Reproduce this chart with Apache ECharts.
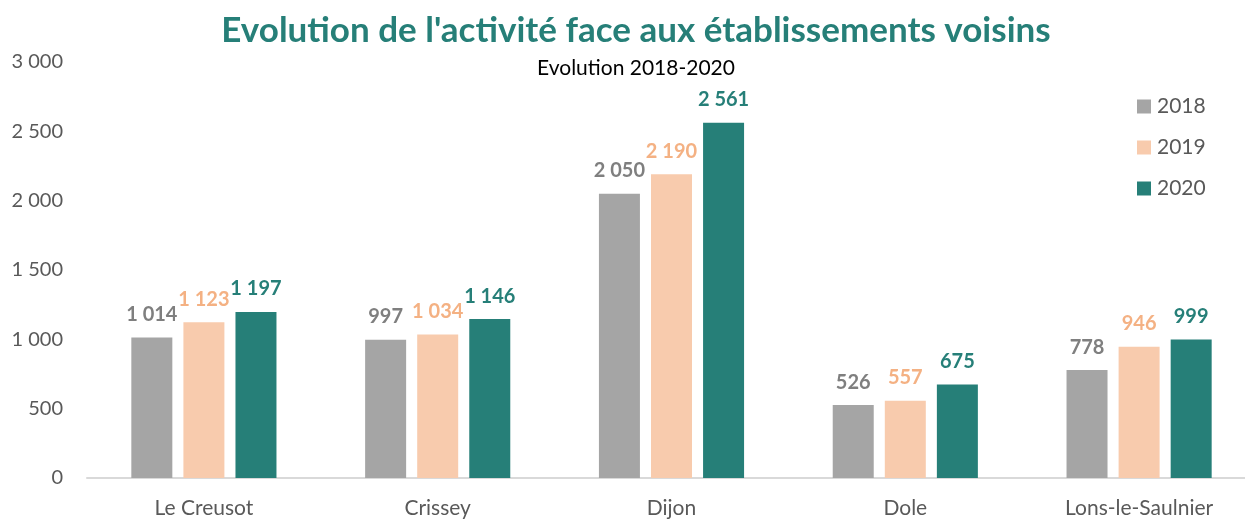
<!DOCTYPE html>
<html>
<head>
<meta charset="utf-8">
<script src="https://cdn.jsdelivr.net/npm/echarts@6/dist/echarts.min.js"></script>
<style>
html,body{margin:0;padding:0;background:#fff;overflow:hidden;}
#chart{width:1257px;height:519px;}
</style>
</head>
<body>
<div id="chart"></div>
<script>
var categories = ['Le Creusot', 'Crissey', 'Dijon', 'Dole', 'Lons-le-Saulnier'];
var years = ['2018', '2019', '2020'];
var values2018 = [1014, 997, 2050, 526, 778];
var values2019 = [1123, 1034, 2190, 557, 946];
var values2020 = [1197, 1146, 2561, 675, 999];
var barColors = ['#A5A5A5', '#F8CBAD', '#267F78'];
var labelColors = ['#7F7F7F', '#F4B183', '#267F78'];

// "1014" -> "1 014"
function fmt(v) {
    return String(v).replace(/\B(?=(\d{3})+(?!\d))/g, ' ');
}

var font = 'Lato, "Open Sans", sans-serif';
var chart = echarts.init(document.getElementById('chart'));
var allValues = [values2018, values2019, values2020];
var series = [];
for (var i = 0; i < years.length; i++) {
    series.push({
        name: years[i],
        type: 'bar',
        data: allValues[i],
        barWidth: 41,
        barGap: '27%',
        itemStyle: {color: barColors[i]},
        label: {
            show: true,
            position: 'top',
            distance: 13,
            color: labelColors[i],
            fontFamily: font,
            fontWeight: 'bold',
            fontSize: 20,
            formatter: function (p) { return fmt(p.value); }
        }
    });
}

chart.setOption({
    animation: false,
    title: {
        text: "Evolution de l'activité face aux établissements voisins",
        subtext: 'Evolution 2018-2020',
        left: 631,
        textAlign: 'center',
        top: 8,
        itemGap: 10,
        textStyle: {color: '#267F78', fontFamily: font, fontWeight: 'bold', fontSize: 35},
        subtextStyle: {color: '#000', fontFamily: font, fontSize: 21}
    },
    legend: {
        orient: 'vertical',
        left: 1132,
        top: 91,
        itemWidth: 14,
        itemHeight: 14,
        itemGap: 20,
        icon: 'rect',
        textStyle: {color: '#595959', fontFamily: font, fontSize: 21, padding: [0, 0, 0, 1]},
        data: years
    },
    grid: {left: 87, top: 62, bottom: 41, width: 1169},
    xAxis: {
        type: 'category',
        data: categories,
        axisLine: {lineStyle: {color: '#D9D9D9', width: 2}},
        axisTick: {show: false},
        axisLabel: {color: '#595959', fontFamily: font, fontSize: 21, margin: 20}
    },
    yAxis: {
        type: 'value',
        min: 0,
        max: 3000,
        interval: 500,
        axisLine: {show: false},
        axisTick: {show: false},
        splitLine: {show: false},
        axisLabel: {
            color: '#595959', fontFamily: font, fontSize: 20, margin: 24,
            formatter: function (v) { return fmt(v); }
        }
    },
    series: series
});
</script>
</body>
</html>
